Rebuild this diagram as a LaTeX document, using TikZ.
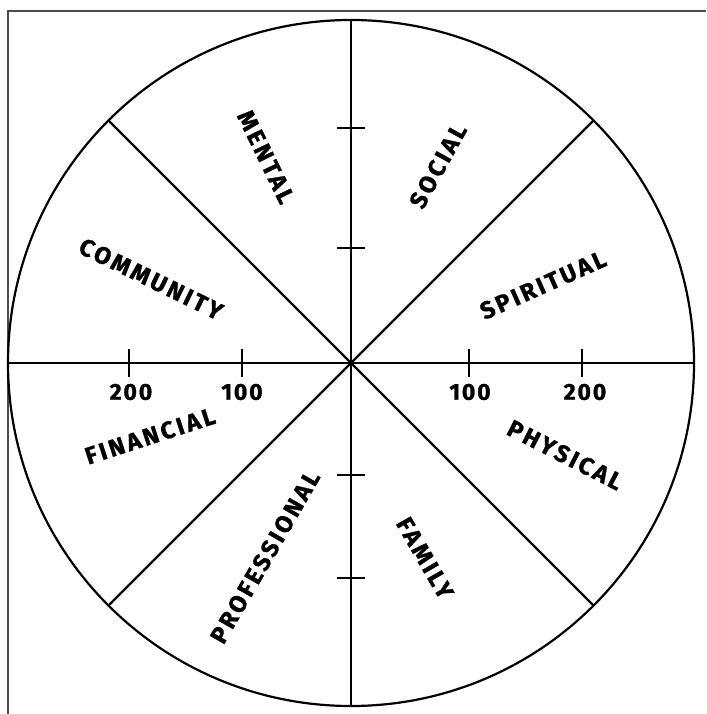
\documentclass[tikz,border=0pt]{standalone}
\usepackage{fontspec}
\setmainfont{Fira Sans}
\newfontfamily\ruedafont{Fira Sans}[LetterSpace=8, FakeBold=1.2]
\newfontfamily\areafont{Fira Sans}[LetterSpace=12, FakeBold=1.2]
\usetikzlibrary{positioning}

\begin{document}
\begin{tikzpicture}[x=1pt, y=-1pt, every node/.style={inner sep=0pt},
  marco/.style={draw=black!70, line width=1.3pt},
  eje/.style={line width=2.2pt},
  marca/.style={line width=2.2pt},
  area/.style={font=\areafont\bfseries\fontsize{24}{26}\selectfont},
  num/.style={font=\ruedafont\bfseries\fontsize{23}{25}\selectfont}]
\useasboundingbox (0,0) rectangle (706,714);
\coordinate (c) at (351,363);
% marco parcial
\draw[marco] (706,11) -- (8,11) -- (8,714);
% rueda
\draw[eje] (c) circle[radius=343];
\foreach \a in {0,45,...,315} \draw[eje] (c) -- ++(\a:343);
\foreach \dx in {-222,-109,118,231} \draw[marca] ([shift={(\dx,-14)}]c) -- ++(0,28);
\foreach \dy in {-235,-115,112,215} \draw[marca] ([shift={(-14,\dy)}]c) -- ++(28,0);
% escala
\node[num] (n200i) at (131,392) {200};
\node[num] (n100i) at (242,392) {100};
\node[num] (n100d) at (470,392) {100};
\node[num] (n200d) at (585,392) {200};
% areas
\node[area, rotate=-64] (mental) at (266,157) {MENTAL};
\node[area, rotate=61] (social) at (438,166) {SOCIAL};
\node[area, rotate=24] (spiritual) at (543,285) {SPIRITUAL};
\node[area, rotate=-26] (community) at (151,279) {COMMUNITY};
\node[area, rotate=18] (financial) at (150,436) {FINANCIAL};
\node[area, rotate=60] (professional) at (265,557) {PROFESSIONAL};
\node[area, rotate=-60] (family) at (425,558) {FAMILY};
\node[area, rotate=-27] (physical) at (565,455) {PHYSICAL};
\end{tikzpicture}
\end{document}
